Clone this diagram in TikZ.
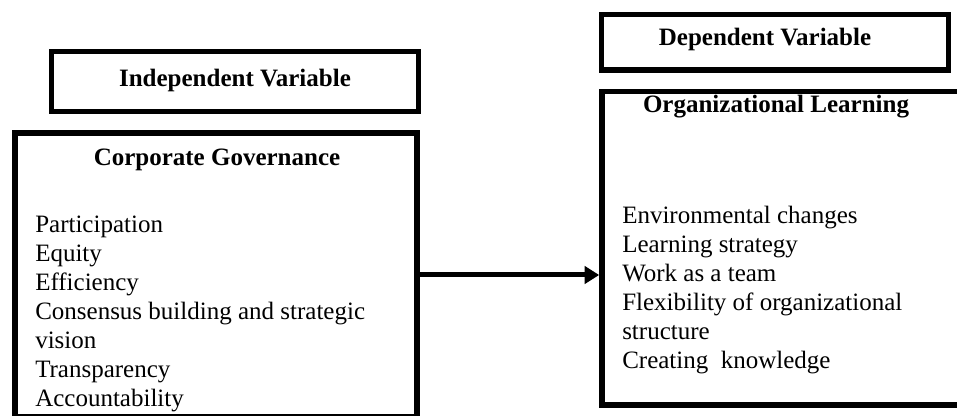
\documentclass[tikz,border=0pt]{standalone}
\usepackage{fontspec}
\setmainfont{Liberation Serif}
\usetikzlibrary{arrows.meta,positioning}

\begin{document}
\begin{tikzpicture}[
    x=0.75pt, y=-0.75pt,
    font=\fontsize{18.75pt}{21.75pt}\selectfont,
    box/.style={rectangle, draw, line width=4.2pt, inner sep=0pt},
    head/.style={font=\fontsize{18.75pt}{21.75pt}\selectfont\bfseries, anchor=base, inner sep=0pt},
    items/.style={align=left, anchor=north west, inner sep=0pt},
    line/.style={draw, line width=3.75pt, -{Triangle[length=11pt,width=13pt]}}
]
    \path[use as bounding box, clip] (0,0) rectangle (957,416);

    % Variable boxes
    \node [box, minimum width=275.25pt, minimum height=45pt] (indep) at (235,81.5) {};
    \node [box, minimum width=301.5pt, minimum height=212.6pt] (cg) at (216,275) {};
    \node [box, minimum width=260.25pt, minimum height=41.6pt] (dep) at (775,42.25) {};
    \node [box, minimum width=270pt, minimum height=235.1pt] (ol) at (782,248.25) {};

    % Titles
    \node [head] (indeptitle) at (235,86.5) {Independent Variable};
    \node [head] (cgtitle) at (217,166) {Corporate Governance};
    \node [head] (deptitle) at (765,46) {Dependent Variable};
    \node [head] (oltitle) at (776,113) {Organizational Learning};

    % Dimensions
    \node [items] (cgitems) at (35,216) {Participation\\Equity\\Efficiency\\Consensus building and strategic\\vision\\Transparency\\Accountability};
    \node [items] (olitems) at (622,206) {Environmental changes\\Learning strategy\\Work as a team\\Flexibility of organizational\\structure\\Creating\ \ knowledge};

    % Connection
    \path [line] (cg.east) -- (cg.east -| ol.west);

\end{tikzpicture}
\end{document}
